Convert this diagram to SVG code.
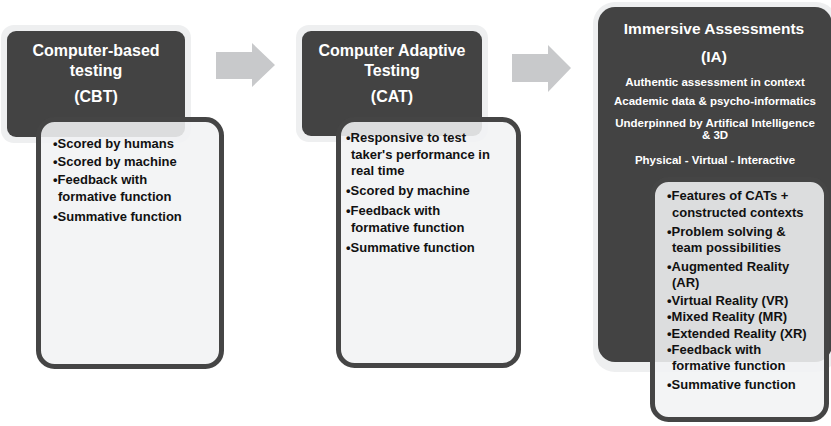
<svg xmlns="http://www.w3.org/2000/svg" width="831" height="426" viewBox="0 0 831 426">
<style>
.halo{fill:#eeeff0}
.dark{fill:#434343}
.light{fill:#f1f2f4;fill-opacity:0.88;stroke:#454545;stroke-width:5}
.arrow{fill:#c8c9cb}
.t{font-family:"Liberation Sans",Arial,sans-serif;font-weight:bold;fill:#ffffff;text-anchor:middle}
.h{font-size:16px}
.s{font-size:11.5px}
.b{font-family:"Liberation Sans",Arial,sans-serif;font-weight:bold;font-size:13px;fill:#111111}
</style>
<rect width="831" height="426" fill="#ffffff"/>
<g id="connectors">
<path class="arrow" d="M216,52 H252 V43 L275,65 L252,87 V79 H216 Z"/>
<path class="arrow" d="M512,54 H548 V45 L571,68 L548,92 V82 H512 Z"/>
</g>
<g id="cbt">
<rect class="halo" x="1" y="25" width="190" height="118" rx="13"/>
<rect class="dark" x="7" y="31" width="178" height="106" rx="9"/>
<text class="t h" x="96" y="56">Computer-based</text>
<text class="t h" x="96" y="76">testing</text>
<text class="t h" x="96" y="102">(CBT)</text>
</g>
<g id="cbt-list">
<rect class="light" x="38.5" y="119.5" width="183" height="247" rx="16"/>
<text class="b" x="53" y="148">•Scored by humans</text>
<text class="b" x="53" y="166">•Scored by machine</text>
<text class="b" x="53" y="184">•Feedback with</text>
<text class="b" x="58" y="201">formative function</text>
<text class="b" x="53" y="221">•Summative function</text>
</g>
<g id="cat">
<rect class="halo" x="296" y="25" width="192" height="117" rx="13"/>
<rect class="dark" x="302" y="31" width="180" height="105" rx="9"/>
<text class="t h" x="392" y="56">Computer Adaptive</text>
<text class="t h" x="392" y="76">Testing</text>
<text class="t h" x="392" y="102">(CAT)</text>
</g>
<g id="cat-list">
<rect class="light" x="338.5" y="119.5" width="180" height="246" rx="16"/>
<text class="b" x="346" y="142">•Responsive to test</text>
<text class="b" x="351" y="159">taker's performance in</text>
<text class="b" x="351" y="175">real time</text>
<text class="b" x="346" y="195">•Scored by machine</text>
<text class="b" x="346" y="215">•Feedback with</text>
<text class="b" x="351" y="232">formative function</text>
<text class="b" x="346" y="252">•Summative function</text>
</g>
<g id="ia">
<rect class="halo" x="593" y="2" width="245" height="370" rx="22"/>
<rect class="dark" x="598" y="7" width="234" height="355" rx="17"/>
<text class="t" x="714" y="34" style="font-size:15.5px">Immersive Assessments</text>
<text class="t" x="714" y="62" style="font-size:15.5px">(IA)</text>
<text class="t s" x="715" y="86">Authentic assessment in context</text>
<text class="t s" x="715" y="105">Academic data &amp; psycho-informatics</text>
<text class="t s" x="715" y="127">Underpinned by Artifical Intelligence</text>
<text class="t s" x="715" y="139">&amp; 3D</text>
<text class="t s" x="715" y="164">Physical - Virtual - Interactive</text>
</g>
<g id="ia-list">
<rect class="light" x="652.5" y="179.5" width="174" height="240" rx="16"/>
<text class="b" x="667" y="200">•Features of CATs +</text>
<text class="b" x="672" y="217">constructed contexts</text>
<text class="b" x="667" y="236">•Problem solving &amp;</text>
<text class="b" x="672" y="252">team possibilities</text>
<text class="b" x="667" y="271">•Augmented Reality</text>
<text class="b" x="672" y="287">(AR)</text>
<text class="b" x="667" y="305">•Virtual Reality (VR)</text>
<text class="b" x="667" y="321">•Mixed Reality (MR)</text>
<text class="b" x="667" y="338">•Extended Reality (XR)</text>
<text class="b" x="667" y="354">•Feedback with</text>
<text class="b" x="672" y="370">formative function</text>
<text class="b" x="667" y="389">•Summative function</text>
</g>
</svg>
